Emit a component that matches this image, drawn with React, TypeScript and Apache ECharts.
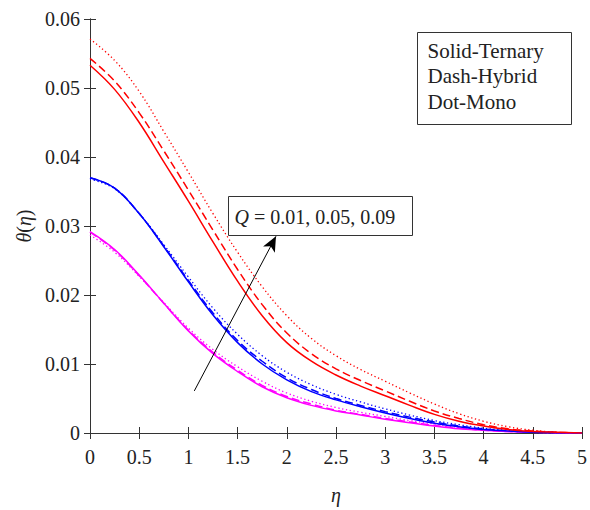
import React, { useEffect, useRef } from "react";
import * as echarts from "echarts";

const eta = [0, 0.25, 0.5, 0.75, 1, 1.25, 1.5, 1.75, 2, 2.25, 2.5, 2.75, 3, 3.25, 3.5, 3.75, 4, 4.25, 4.5, 4.75, 5];

// Q = 0.09 (red)
const redTernary = [0.0533, 0.0498, 0.045, 0.0393, 0.0336, 0.0277, 0.022, 0.017, 0.0131, 0.0104, 0.0084, 0.0068, 0.0054, 0.004, 0.0027, 0.0017, 0.001, 0.0005, 0.0002, 0.0001, 0];
const redHybrid = [0.0543, 0.051, 0.0464, 0.0409, 0.0352, 0.0294, 0.0237, 0.0186, 0.0145, 0.0115, 0.0093, 0.0076, 0.0061, 0.0046, 0.0032, 0.0021, 0.0012, 0.0006, 0.0003, 0.0001, 0];
const redMono = [0.0571, 0.054, 0.0495, 0.0437, 0.0378, 0.0318, 0.0262, 0.0212, 0.017, 0.0137, 0.0112, 0.0092, 0.0075, 0.0058, 0.0042, 0.0028, 0.0017, 0.0009, 0.0004, 0.0001, 0];
// Q = 0.05 (blue)
const blueTernary = [0.037, 0.0355, 0.0318, 0.027, 0.0219, 0.0171, 0.0131, 0.01, 0.0077, 0.006, 0.0048, 0.0038, 0.0029, 0.0021, 0.0014, 0.0009, 0.0005, 0.0003, 0.0001, 0.00005, 0];
const blueHybrid = [0.037, 0.0355, 0.0318, 0.0271, 0.0221, 0.0174, 0.0134, 0.0104, 0.008, 0.0063, 0.005, 0.004, 0.0031, 0.0023, 0.0016, 0.001, 0.0006, 0.0003, 0.0001, 0.00005, 0];
const blueMono = [0.0368, 0.0354, 0.0318, 0.0273, 0.0226, 0.0181, 0.0143, 0.0112, 0.0088, 0.007, 0.0056, 0.0045, 0.0035, 0.0026, 0.0018, 0.0012, 0.0007, 0.0004, 0.0002, 0.00005, 0];
// Q = 0.01 (magenta)
const magTernary = [0.0292, 0.0266, 0.0229, 0.0188, 0.0148, 0.0115, 0.0089, 0.0067, 0.0051, 0.004, 0.0032, 0.0026, 0.002, 0.0015, 0.001, 0.0006, 0.0004, 0.0002, 0.0001, 0.00003, 0];
const magHybrid = [0.0291, 0.0265, 0.0228, 0.0188, 0.0149, 0.0117, 0.0091, 0.0069, 0.0053, 0.0042, 0.0033, 0.0027, 0.0021, 0.0016, 0.0011, 0.0007, 0.0004, 0.0002, 0.0001, 0.00003, 0];
const magMono = [0.0287, 0.0262, 0.0227, 0.0189, 0.0152, 0.0121, 0.0096, 0.0075, 0.0058, 0.0046, 0.0037, 0.003, 0.0024, 0.0018, 0.0013, 0.0008, 0.0005, 0.0003, 0.0001, 0.00003, 0];

const arrowFrom = [1.06, 0.0061];
const arrowTo = [1.89, 0.0285];

const legendLines = ["Solid-Ternary", "Dash-Hybrid", "Dot-Mono"];
const qLabel = "= 0.01, 0.05, 0.09";

const FONT = "'Liberation Serif', 'Times New Roman', serif";
const AXIS_COLOR = "#333";
const TEXT_COLOR = "#222";

export default function App() {
  const ref = useRef<HTMLDivElement>(null);

  useEffect(() => {
    if (!ref.current) return;
    const chart = echarts.init(ref.current, undefined, { renderer: "svg" });

    const mk = (name: string, ys: number[], color: string, kind: string, extra: any = {}) => {
      let type: any = "solid";
      let width = 1.5;
      if (kind === "dash") type = [8, 4];
      if (kind === "dot") {
        type = [1.3, 2.6];
        width = 1.3;
      }
      return {
        name,
        type: "line",
        xAxisIndex: 0,
        yAxisIndex: 0,
        showSymbol: false,
        smooth: 0.4,
        data: eta.map((x, i) => [x, ys[i]]),
        lineStyle: { color, width, type },
        itemStyle: { color },
        z: kind === "solid" ? 3 : 2,
        ...extra,
      };
    };

    const axisCommon = {
      axisLine: { show: true, lineStyle: { color: AXIS_COLOR, width: 1 } },
      axisTick: { show: true, inside: true, length: 6, lineStyle: { color: AXIS_COLOR } },
      splitLine: { show: false },
    };

    const option: any = {
      animation: false,
      backgroundColor: "#fff",
      grid: { left: 90, right: 6, top: 19, bottom: 77 },
      xAxis: [
        {
          type: "value",
          min: 0,
          max: 5,
          interval: 0.5,
          position: "bottom",
          ...axisCommon,
          axisLabel: { fontFamily: FONT, fontSize: 20, color: TEXT_COLOR, margin: 14 },
          name: "{i|η}",
          nameLocation: "middle",
          nameGap: 52,
          nameTextStyle: {
            fontFamily: FONT,
            fontSize: 20,
            color: TEXT_COLOR,
            rich: { i: { fontFamily: FONT, fontSize: 20, fontStyle: "italic", color: TEXT_COLOR } },
          },
        },
        {
          type: "value",
          min: 0,
          max: 5,
          interval: 0.5,
          position: "top",
          ...axisCommon,
          axisLabel: { show: false },
        },
      ],
      yAxis: [
        {
          type: "value",
          min: 0,
          max: 0.06,
          interval: 0.01,
          position: "left",
          ...axisCommon,
          axisLabel: { fontFamily: FONT, fontSize: 20, color: TEXT_COLOR, margin: 10 },
          name: "{i|θ}({i|η})",
          nameLocation: "middle",
          nameGap: 50,
          nameRotate: 90,
          nameTextStyle: {
            fontFamily: FONT,
            fontSize: 20,
            color: TEXT_COLOR,
            rich: { i: { fontFamily: FONT, fontSize: 20, fontStyle: "italic", color: TEXT_COLOR } },
          },
        },
        {
          type: "value",
          min: 0,
          max: 0.06,
          interval: 0.01,
          position: "right",
          ...axisCommon,
          axisLabel: { show: false },
        },
      ],
      series: [
        mk("Q=0.01 Mono", magMono, "#ff00ff", "dot"),
        mk("Q=0.01 Hybrid", magHybrid, "#ff00ff", "dash"),
        mk("Q=0.01 Ternary", magTernary, "#ff00ff", "solid"),
        mk("Q=0.05 Mono", blueMono, "#0000ff", "dot"),
        mk("Q=0.05 Hybrid", blueHybrid, "#0000ff", "dash"),
        mk("Q=0.05 Ternary", blueTernary, "#0000ff", "solid"),
        mk("Q=0.09 Mono", redMono, "#ff0000", "dot"),
        mk("Q=0.09 Hybrid", redHybrid, "#ff0000", "dash"),
        mk("Q=0.09 Ternary", redTernary, "#ff0000", "solid", {
          markLine: {
            silent: true,
            symbol: ["none", "arrow"],
            symbolSize: [10, 15],
            label: { show: false },
            lineStyle: { color: "#000", width: 1, type: "solid" },
            data: [[{ coord: arrowFrom }, { coord: arrowTo }]],
          },
        }),
      ],
      graphic: [
        {
          type: "group",
          left: 417,
          top: 32,
          children: [
            {
              type: "rect",
              shape: { x: 0, y: 0, width: 154, height: 92 },
              style: { fill: "#fff", stroke: AXIS_COLOR, lineWidth: 1 },
            },
            ...legendLines.map((t, i) => ({
              type: "text",
              x: 10,
              y: 18 + i * 25.5,
              style: {
                text: t,
                font: `21px ${FONT}`,
                fill: TEXT_COLOR,
                verticalAlign: "middle",
              },
            })),
          ],
        },
        {
          type: "group",
          left: 228,
          top: 196,
          children: [
            {
              type: "rect",
              shape: { x: 0, y: 0, width: 184, height: 39 },
              style: { fill: "#fff", stroke: AXIS_COLOR, lineWidth: 1 },
            },
            {
              type: "text",
              x: 6,
              y: 20,
              style: {
                text: "{i|Q} " + qLabel,
                font: `20px ${FONT}`,
                fill: TEXT_COLOR,
                verticalAlign: "middle",
                rich: { i: { font: `italic 20px ${FONT}`, fill: TEXT_COLOR } },
              },
            },
          ],
        },
      ],
    };

    chart.setOption(option);
    return () => chart.dispose();
  }, []);

  return (
    <div
      ref={ref}
      style={{ position: "fixed", left: 0, top: 0, width: 590, height: 510, background: "#fff" }}
    />
  );
}
